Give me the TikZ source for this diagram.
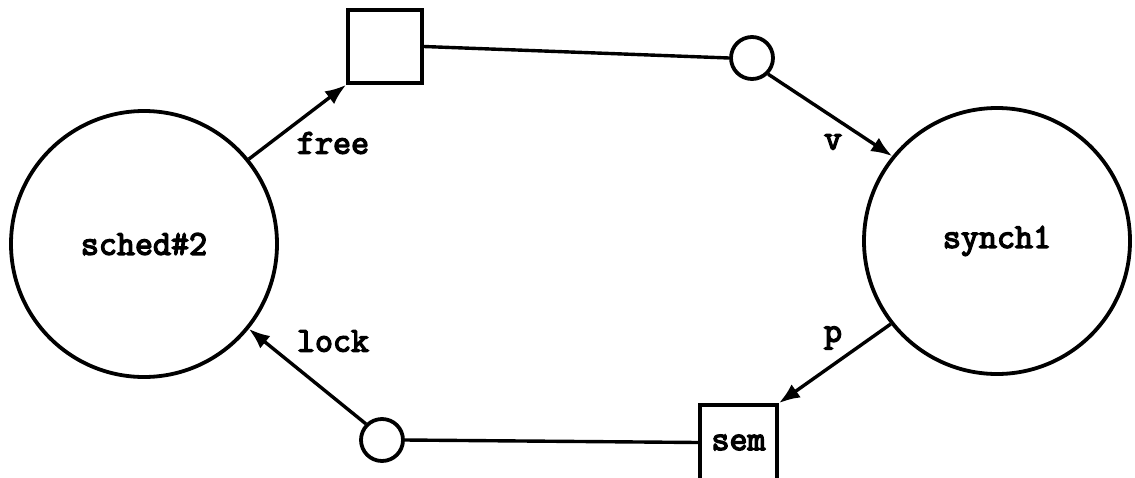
\documentclass[tikz,border=0pt]{standalone}
\usepackage{fontspec}
\newfontfamily\typew[FakeBold=4]{Latin Modern Mono}
\usetikzlibrary{arrows.meta}
\begin{document}
\begin{tikzpicture}[x=1pt,y=-1pt,
  every node/.style={font=\fontsize{35}{35}\selectfont\typew},
  proc/.style={draw,circle,line width=3.8pt,minimum size=266pt,inner sep=0pt},
  place/.style={draw,circle,line width=3.8pt,minimum size=42pt,inner sep=0pt},
  box/.style={draw,rectangle,line width=3.8pt,minimum width=74pt,minimum height=73pt,inner sep=0pt},
  link/.style={line width=3.4pt},
  flow/.style={line width=3.4pt,-{Latex[length=21pt,width=16pt]}},
  lbl/.style={inner sep=0pt}]
\useasboundingbox (0,0) rectangle (1135,477);
\clip (0,0) rectangle (1135,477);

% processes
\node[proc] (sched) at (144,244) {sched\#2};
\node[proc] (synch) at (997,241) {synch1};

% shared objects and ports
\node[box] (top) at (385,46.5) {};
\node[place] (pt) at (752,58) {};
\node[place] (pb) at (382,440) {};
\node[box, minimum width=77pt, minimum height=75pt] (sem) at (738.5,442.5) {sem};

% connections
\draw[flow] (sched.39) -- (top.south west);
\draw[link] (top.east) -- (pt.west);
\draw[flow] (pt.-45) -- (synch.141);
\draw[flow] (synch.218) -- (sem.north east);
\draw[link] (sem.west) -- (pb.east);
\draw[flow] (pb.135) -- (sched.-39);

% labels
\node[lbl] (lfree) at (333,143) {free};
\node[lbl] (lv) at (833,142) {v};
\node[lbl] (lp) at (833,338) {p};
\node[lbl] (llock) at (333,341) {lock};
\end{tikzpicture}
\end{document}
